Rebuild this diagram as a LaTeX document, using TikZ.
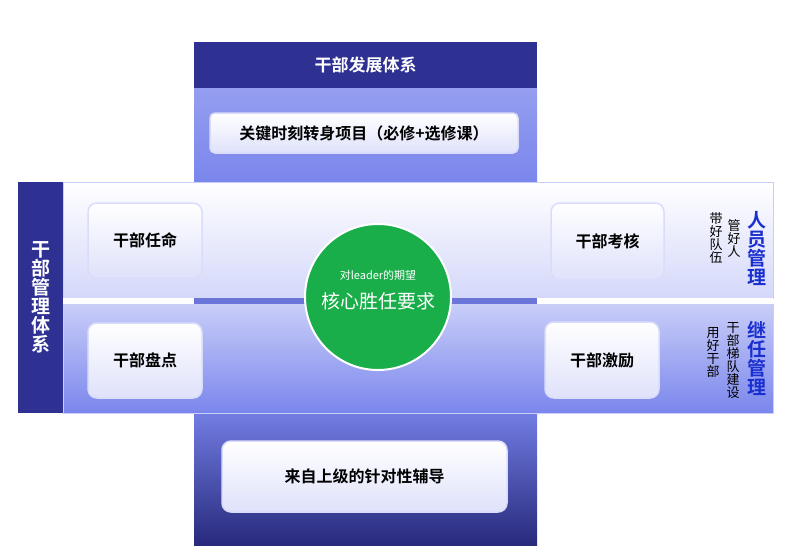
\documentclass[tikz,border=0pt]{standalone}
\usepackage{fontspec}
\setmainfont{Noto Sans CJK SC}
\newfontfamily\cjkb{Noto Sans CJK SC Bold}
\usetikzlibrary{shadows}
\definecolor{navy}{HTML}{2E3192}
\definecolor{midb}{HTML}{7A86EC}
\definecolor{lav}{HTML}{C9CEF8}
\definecolor{grn}{HTML}{1AAE4A}
\definecolor{tblue}{HTML}{1A2FD0}
\tikzset{
  card/.style={rounded corners=9pt, draw=lav!70!white, line width=1.5pt, top color=white, bottom color=lav!60!white, font=\cjkb\fontsize{16}{18}\selectfont, text=black},
  vtext/.style={align=center, font=\fontsize{13}{13}\selectfont},
  vbig/.style={align=center, font=\cjkb\fontsize{19}{19}\selectfont, text=tblue},
}
\begin{document}
\begin{tikzpicture}[x=1pt,y=-1pt]
\useasboundingbox (0,0) rectangle (799,558);
% vertical column
\fill[navy] (194,42) rectangle (537,88);
\node[text=white, font=\cjkb\fontsize{17}{19}\selectfont] (hdr) at (365.5,65) {干部发展体系};
\shade[top color=midb!80!white, bottom color=midb] (194,88) rectangle (537,182);
\node[card, minimum width=308pt, minimum height=40pt, rounded corners=5pt] (k) at (364,133) {关键时刻转身项目（必修+选修课）};
\shade[top color=midb!90!navy, bottom color=navy!85!black] (194,413) rectangle (537,545);
\node[card, minimum width=285pt, minimum height=71pt] (f) at (364.5,476.5) {来自上级的针对性辅导};
% horizontal band
\shade[top color=white, bottom color=lav!80!white, draw=lav] (63,182) rectangle (773,298);
\fill[white] (63,298) rectangle (773,304);
\fill[midb!80!navy] (194,298) rectangle (537,304);
\shade[top color=lav, bottom color=midb, draw=lav] (63,304) rectangle (773,413);
\fill[navy] (18,182) rectangle (63,413);
\node[align=center, text=white, font=\cjkb\fontsize{19}{19}\selectfont] (l) at (40.5,297) {干\\部\\管\\理\\体\\系};
% cards
\node[card, minimum width=114pt, minimum height=75pt] (a) at (145,240.5) {干部任命};
\node[card, minimum width=114pt, minimum height=75pt] (b) at (145,360.5) {干部盘点};
\node[card, minimum width=113pt, minimum height=77pt] (c) at (607.5,241.5) {干部考核};
\node[card, minimum width=114pt, minimum height=76pt] (d) at (602,360) {干部激励};
% circle
\node[circle, fill=grn, draw=white, line width=2pt, minimum size=146pt] (o) at (378,297) {};
\node[text=white, font=\fontsize{11}{12}\selectfont] (o1) at (378,275) {对leader的期望};
\node[text=white, font=\fontsize{19}{21}\selectfont] (o2) at (378,301) {核心胜任要求};
% right texts
\node[vbig] (r1) at (757,248) {人\\员\\管\\理};
\node[vtext] (r1a) at (734,238) {管\\好\\人};
\node[vtext] (r1b) at (716,238) {带\\好\\队\\伍};
\node[vbig] (r2) at (757,358) {继\\任\\管\\理};
\node[vtext] (r2a) at (733,361) {干\\部\\梯\\队\\建\\设};
\node[vtext] (r2b) at (713,352) {用\\好\\干\\部};
\end{tikzpicture}
\end{document}
